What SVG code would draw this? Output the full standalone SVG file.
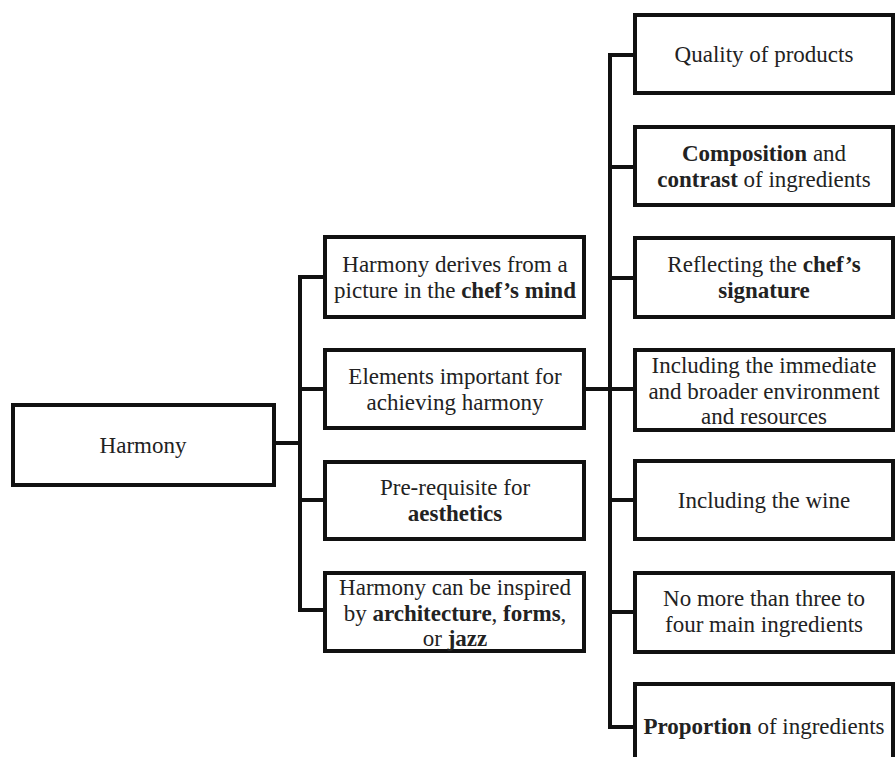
<svg xmlns="http://www.w3.org/2000/svg" width="896" height="757" viewBox="0 0 896 757">
<style>
  .box { fill: #ffffff; stroke: #111111; stroke-width: 4; }
  .conn { fill: none; stroke: #111111; stroke-width: 4; stroke-linecap: square; }
  text { font-family: "Liberation Serif", "Times New Roman", serif; font-size: 23px; fill: #222222; text-anchor: middle; }
  .b { font-weight: bold; }
</style>
<rect width="896" height="757" fill="#ffffff"/>
<g id="connectors">
  <path class="conn" d="M275,443 H300"/>
  <path class="conn" d="M300,277 V610"/>
  <path class="conn" d="M300,277 H325 M300,389 H325 M300,500 H325 M300,610 H325"/>
  <path class="conn" d="M584,389 H635"/>
  <path class="conn" d="M610,55 V727"/>
  <path class="conn" d="M610,55 H635 M610,167 H635 M610,278 H635 M610,500 H635 M610,612 H635 M610,727 H635"/>
</g>
<g id="n-harmony">
  <rect class="box" x="13" y="405" width="261" height="80"/>
  <text x="143" y="453">Harmony</text>
</g>
<g id="n-mind">
  <rect class="box" x="325" y="237" width="259" height="80"/>
  <text x="455" y="272">Harmony derives from a<tspan x="455" dy="25.6">picture in the </tspan><tspan class="b">chef’s mind</tspan></text>
</g>
<g id="n-elements">
  <rect class="box" x="325" y="350" width="259" height="78"/>
  <text x="455" y="384">Elements important for<tspan x="455" dy="25.6">achieving harmony</tspan></text>
</g>
<g id="n-aesthetics">
  <rect class="box" x="325" y="462" width="259" height="77"/>
  <text x="455" y="495">Pre-requisite for<tspan x="455" dy="25.6" class="b">aesthetics</tspan></text>
</g>
<g id="n-inspired">
  <rect class="box" x="325" y="573" width="259" height="78"/>
  <text x="455" y="595">Harmony can be inspired<tspan x="455" dy="25.6">by </tspan><tspan class="b">architecture</tspan>, <tspan class="b">forms</tspan>,<tspan x="455" dy="25.6">or </tspan><tspan class="b">jazz</tspan></text>
</g>
<g id="n-quality">
  <rect class="box" x="635" y="15" width="258" height="78"/>
  <text x="764" y="62">Quality of products</text>
</g>
<g id="n-composition">
  <rect class="box" x="635" y="127" width="258" height="78"/>
  <text x="764" y="161"><tspan class="b">Composition</tspan> and<tspan x="764" dy="25.6" class="b">contrast</tspan> of ingredients</text>
</g>
<g id="n-signature">
  <rect class="box" x="635" y="238" width="258" height="79"/>
  <text x="764" y="272">Reflecting the <tspan class="b">chef’s</tspan><tspan x="764" dy="25.6" class="b">signature</tspan></text>
</g>
<g id="n-environment">
  <rect class="box" x="635" y="350" width="258" height="80"/>
  <text x="764" y="373">Including the immediate<tspan x="764" dy="25.6">and broader environment</tspan><tspan x="764" dy="25.6">and resources</tspan></text>
</g>
<g id="n-wine">
  <rect class="box" x="635" y="461" width="258" height="78"/>
  <text x="764" y="508">Including the wine</text>
</g>
<g id="n-three">
  <rect class="box" x="635" y="573" width="258" height="79"/>
  <text x="764" y="606">No more than three to<tspan x="764" dy="25.6">four main ingredients</tspan></text>
</g>
<g id="n-proportion">
  <rect class="box" x="635" y="684" width="258" height="90"/>
  <text x="764" y="734"><tspan class="b">Proportion</tspan> of ingredients</text>
</g>
</svg>
